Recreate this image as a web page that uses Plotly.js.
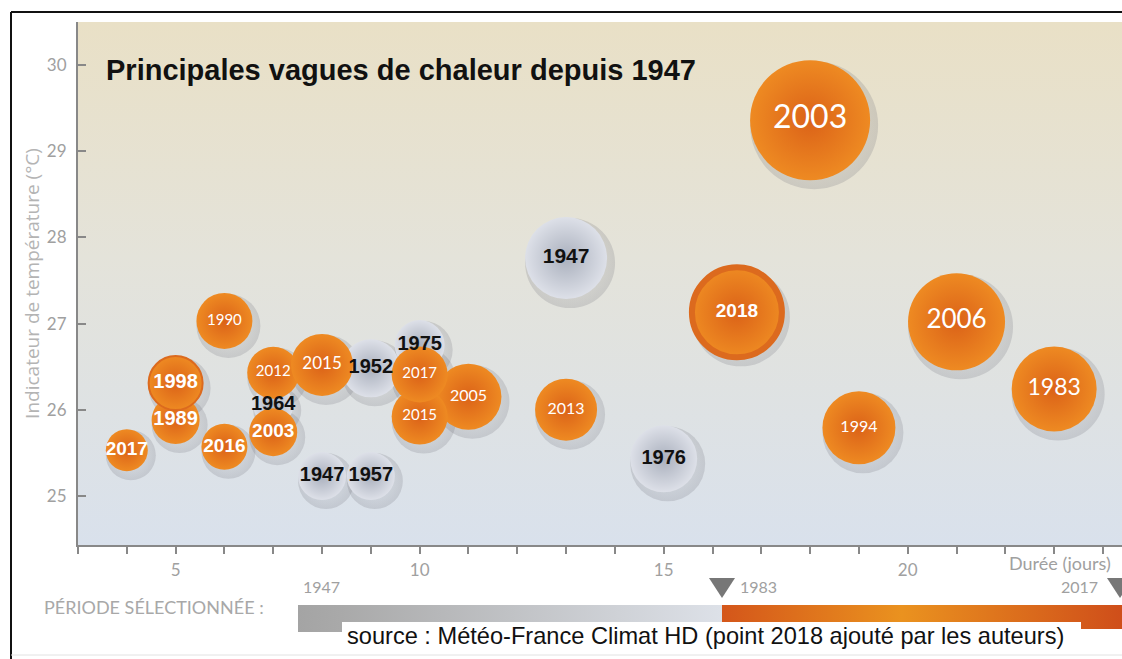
<!DOCTYPE html>
<html>
<head>
<meta charset="utf-8">
<script src="https://cdn.plot.ly/plotly-3.0.1.min.js"></script>
<style>html,body{margin:0;padding:0;background:#fff;}#chart{width:1122px;height:659px;}</style>
</head>
<body>
<div id="chart"></div>
<script>
// ---- data ----
const years    = ['2003','1947','2018','2006','1983','1994','1976','2013','2005','2015','2017','1975','1952','2012','2015','1990','1989','1998','2017','2016','2003','1964','1947','1957'];
const duration = [18, 13, 16.5, 21, 23, 19, 15, 13, 11, 10, 10, 10, 9, 7, 8, 6, 5, 5, 4, 6, 7, 7, 8, 9];
const temperature = [29.36, 27.76, 27.13, 27.02, 26.24, 25.79, 25.43, 26.0, 26.15, 25.92, 26.41, 26.75, 26.48, 26.43, 26.52, 27.03, 25.88, 26.31, 25.53, 25.57, 25.74, 26.05, 25.23, 25.23];
const intensity = [120, 82, 90, 97, 85, 73, 67, 62, 66, 56, 56, 50, 58, 52, 62, 56, 48, 54, 42, 46, 48, 40, 48, 48];
const periodStart = 1947, periodSplit = 1983, periodEnd = 2017;
const xTickVals = [5, 10, 15, 20];
const yTickVals = [25, 26, 27, 28, 29, 30];

// ---- label styles (per point) ----
const labelSize = [32, 21, 19, 26, 23, 16, 20, 16, 16, 15, 15, 20, 20, 15, 17, 15, 20, 20, 19, 19, 19, 20, 20, 20];
const labelBold = [0, 1, 1, 0, 0, 0, 1, 0, 0, 0, 0, 1, 1, 0, 0, 0, 1, 1, 1, 1, 1, 1, 1, 1];

const idxGrey = [], idxOrange = [];
years.forEach((y, i) => (Number(y) < periodSplit ? idxGrey : idxOrange).push(i));
const pick = (arr, idx) => idx.map(i => arr[i]);

// soft shadows (offset a few px right/down)
const dxShadow = 4 / 48.8, dyShadow = 5 / 86.2;
const shadow = {
  type: 'scatter', mode: 'markers', hoverinfo: 'skip', showlegend: false,
  x: duration.map(v => v + dxShadow), y: temperature.map(v => v - dyShadow),
  marker: { size: intensity.map(s => s + 8), sizemode: 'diameter', opacity: 1,
    color: 'rgba(110,110,120,0.22)', gradient: { type: 'radial', color: 'rgba(110,110,120,0)' }, line: { width: 0 } }
};
const grey = {
  type: 'scatter', mode: 'markers', name: 'avant 1983', showlegend: false,
  x: pick(duration, idxGrey), y: pick(temperature, idxGrey), text: pick(years, idxGrey), hoverinfo: 'text+x+y',
  marker: { size: pick(intensity, idxGrey), sizemode: 'diameter', opacity: 1, color: '#dde0e8',
    gradient: { type: 'radial', color: '#aab0bd' }, line: { width: 0 } }
};
const orange = {
  type: 'scatter', mode: 'markers', name: 'depuis 1983', showlegend: false,
  x: pick(duration, idxOrange), y: pick(temperature, idxOrange), text: pick(years, idxOrange), hoverinfo: 'text+x+y',
  marker: { size: pick(intensity, idxOrange), sizemode: 'diameter', opacity: 1, color: '#ee8a22',
    gradient: { type: 'radial', color: '#db6218' },
    line: { width: pick(years.map((y, i) => (y === '2018' ? 6 : (y === '1998' ? 2 : 0))), idxOrange), color: '#dc6a1e' } }
};
const labels = {
  type: 'scatter', mode: 'text', hoverinfo: 'skip', showlegend: false,
  x: duration, y: temperature, text: years, textposition: 'middle center',
  textfont: {
    size: labelSize,
    color: years.map(y => (Number(y) < periodSplit ? '#111111' : '#ffffff')),
    family: labelBold.map(b => (b ? 'Liberation Sans, Arial, sans-serif' : 'Lato, sans-serif')),
    weight: labelBold.map(b => (b ? 700 : 400))
  }
};

// ---- layout helpers (pixel -> paper) ----
const L = 78, T = 22, W = 1044, H = 523;
const px = p => (p - L) / W, py = q => (T + H - q) / H;
const svgUri = s => 'data:image/svg+xml;base64,' + btoa(s);
const bgSvg = '<svg xmlns="http://www.w3.org/2000/svg" width="100" height="100" preserveAspectRatio="none"><defs><linearGradient id="g" x1="0" y1="0" x2="0" y2="1"><stop offset="0" stop-color="#e9e0c6"/><stop offset="0.45" stop-color="#e4e3da"/><stop offset="1" stop-color="#d9e1ec"/></linearGradient></defs><rect width="100" height="100" fill="url(#g)"/></svg>';
const greySvg = '<svg xmlns="http://www.w3.org/2000/svg" width="100" height="10" preserveAspectRatio="none"><defs><linearGradient id="g" x1="0" y1="0" x2="1" y2="0"><stop offset="0" stop-color="#a4a4a4"/><stop offset="0.1" stop-color="#a9a9a9"/><stop offset="1" stop-color="#dde1e8"/></linearGradient></defs><rect width="100" height="10" fill="url(#g)"/></svg>';
const orangeSvg = '<svg xmlns="http://www.w3.org/2000/svg" width="100" height="10" preserveAspectRatio="none"><defs><linearGradient id="g" x1="0" y1="0" x2="1" y2="0"><stop offset="0" stop-color="#d4561a"/><stop offset="0.45" stop-color="#ea921f"/><stop offset="1" stop-color="#cf4e1a"/></linearGradient></defs><rect width="100" height="10" fill="url(#g)"/></svg>';

const greyTxt = '#a0a0a0';
const layout = {
  width: 1122, height: 659,
  margin: { l: L, r: 0, t: T, b: 659 - T - H, pad: 0 },
  paper_bgcolor: '#ffffff', plot_bgcolor: 'rgba(0,0,0,0)',
  showlegend: false,
  title: { text: 'Principales vagues de chaleur depuis 1947', x: 106 / 1122, xanchor: 'left', xref: 'container',
    y: 1 - 70 / 659, yanchor: 'middle', yref: 'container',
    font: { family: 'Liberation Sans, Arial, sans-serif', size: 29, color: '#111', weight: 700 } },
  xaxis: { range: [3, 24.39], tickvals: xTickVals, ticks: 'outside', ticklen: 7, tickwidth: 2, tickcolor: '#888',
    minor: { dtick: 1, tick0: 0, ticks: 'outside', ticklen: 7, tickwidth: 2, tickcolor: '#888' },
    showline: true, linecolor: '#888', linewidth: 2, showgrid: false, zeroline: false,
    tickfont: { family: 'Lato, sans-serif', size: 17, color: greyTxt }, ticklabelstandoff: 2, fixedrange: true },
  yaxis: { range: [24.43, 30.5], tickvals: yTickVals, ticks: 'inside', ticklen: 8, tickwidth: 2, tickcolor: '#888',
    showline: true, linecolor: '#888', linewidth: 2, showgrid: false, zeroline: false,
    tickfont: { family: 'Lato, sans-serif', size: 17, color: greyTxt }, ticklabelstandoff: 6,
    title: { text: 'Indicateur de température (°C)', standoff: 2,
      font: { family: 'Open Sans, sans-serif', size: 19, color: '#b4b4b4' } }, fixedrange: true },
  images: [
    { source: svgUri(bgSvg), xref: 'paper', yref: 'paper', x: 0, y: 1, sizex: 1, sizey: 1,
      xanchor: 'left', yanchor: 'top', sizing: 'stretch', layer: 'below' },
    { source: svgUri(greySvg), xref: 'paper', yref: 'paper', x: px(298), y: py(605), sizex: (722 - 298) / W, sizey: 27 / H,
      xanchor: 'left', yanchor: 'top', sizing: 'stretch', layer: 'above' },
    { source: svgUri(orangeSvg), xref: 'paper', yref: 'paper', x: px(722), y: py(605), sizex: (1122 - 722) / W, sizey: 24 / H,
      xanchor: 'left', yanchor: 'top', sizing: 'stretch', layer: 'above' }
  ],
  shapes: [
    // outer frame
    { type: 'line', xref: 'paper', yref: 'paper', x0: px(11), x1: px(1122), y0: py(12), y1: py(12), line: { color: '#111', width: 2 } },
    { type: 'line', xref: 'paper', yref: 'paper', x0: px(11), x1: px(11), y0: py(12), y1: py(659), line: { color: '#111', width: 2 } },
    { type: 'line', xref: 'paper', yref: 'paper', x0: px(11), x1: px(1122), y0: py(655), y1: py(655), line: { color: '#e2e2e2', width: 1 } },
    // source box
    { type: 'rect', xref: 'paper', yref: 'paper', x0: px(342), x1: px(1081), y0: py(622), y1: py(653), fillcolor: '#ffffff', line: { width: 0 } },
    // period triangles
    { type: 'path', xref: 'paper', yref: 'paper',
      path: `M ${px(709)} ${py(578)} L ${px(735)} ${py(578)} L ${px(722)} ${py(598)} Z`, fillcolor: '#777', line: { width: 0 } },
    { type: 'path', xref: 'paper', yref: 'paper',
      path: `M ${px(1107)} ${py(578)} L ${px(1133)} ${py(578)} L ${px(1120)} ${py(598)} Z`, fillcolor: '#777', line: { width: 0 } }
  ],
  annotations: [
    { text: 'Durée (jours)', xref: 'paper', yref: 'paper', x: px(1007), y: py(563), xanchor: 'left', yanchor: 'middle',
      showarrow: false, font: { family: 'Lato, sans-serif', size: 18, color: greyTxt } },
    { text: 'PÉRIODE SÉLECTIONNÉE :', xref: 'paper', yref: 'paper', x: px(42), y: py(607), xanchor: 'left', yanchor: 'middle',
      showarrow: false, font: { family: 'Lato, sans-serif', size: 18, color: '#a8a8a8' } },
    { text: String(periodStart), xref: 'paper', yref: 'paper', x: px(301), y: py(586), xanchor: 'left', yanchor: 'middle',
      showarrow: false, font: { family: 'Lato, sans-serif', size: 16, color: greyTxt } },
    { text: String(periodSplit), xref: 'paper', yref: 'paper', x: px(738), y: py(586), xanchor: 'left', yanchor: 'middle',
      showarrow: false, font: { family: 'Lato, sans-serif', size: 16, color: greyTxt } },
    { text: String(periodEnd), xref: 'paper', yref: 'paper', x: px(1100), y: py(586), xanchor: 'right', yanchor: 'middle',
      showarrow: false, font: { family: 'Lato, sans-serif', size: 16, color: greyTxt } },
    { text: 'source : Météo-France Climat HD (point 2018 ajouté par les auteurs)', xref: 'paper', yref: 'paper',
      x: px(345), y: py(636), xanchor: 'left', yanchor: 'middle', showarrow: false,
      font: { family: 'Liberation Sans, Arial, sans-serif', size: 23.6, color: '#111' } }
  ]
};

Plotly.newPlot('chart', [shadow, grey, orange, labels], layout, { displayModeBar: false, staticPlot: true });
</script>
</body>
</html>
